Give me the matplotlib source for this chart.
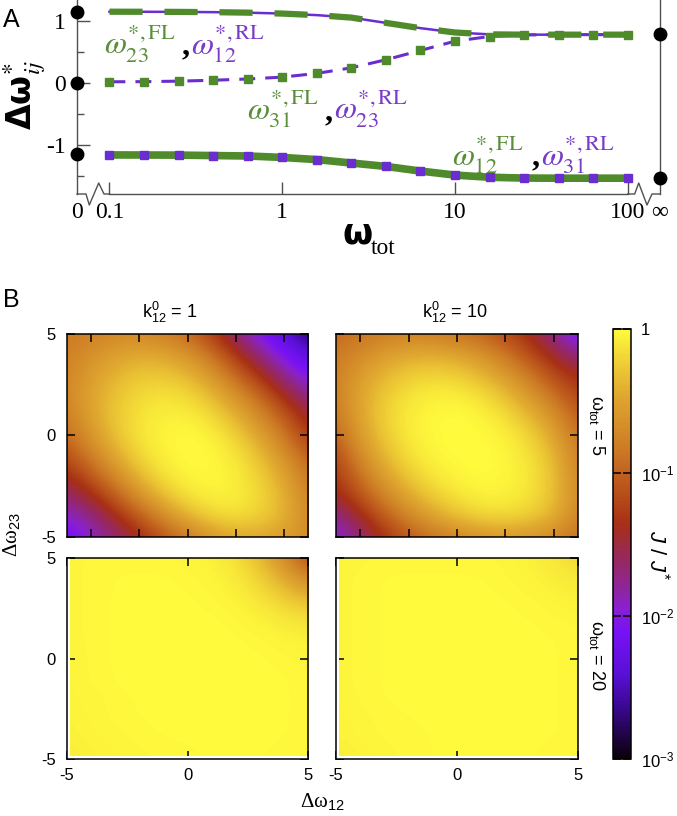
import numpy as np
import matplotlib
matplotlib.use('Agg')
import matplotlib.pyplot as plt
from matplotlib.colors import LinearSegmentedColormap, Normalize, LogNorm
from matplotlib.cm import ScalarMappable
from matplotlib.ticker import MultipleLocator, NullLocator, FixedLocator
import matplotlib.transforms as mtransforms

plt.rcParams['mathtext.fontset'] = 'custom'
plt.rcParams['mathtext.rm'] = 'Liberation Sans'
plt.rcParams['mathtext.it'] = 'Liberation Sans:italic'
plt.rcParams['mathtext.bf'] = 'Liberation Sans:bold'
plt.rcParams['font.family'] = ['Liberation Sans', 'DejaVu Sans']

# ---------------- data: panel A ----------------
omega_tot = [0.1, 0.158, 0.251, 0.398, 0.631, 1.0, 1.585, 2.512, 3.981, 6.31,
             10.0, 15.85, 25.12, 39.81, 63.1, 100.0]
top_curve = [1.145, 1.144, 1.142, 1.138, 1.13, 1.115, 1.09, 1.05, 0.965, 0.88,
             0.81, 0.78, 0.775, 0.775, 0.775, 0.775]
mid_curve = [0.015, 0.017, 0.025, 0.04, 0.06, 0.09, 0.15, 0.24, 0.37, 0.52,
             0.67, 0.745, 0.77, 0.775, 0.775, 0.775]
bot_curve = [-1.165, -1.166, -1.168, -1.175, -1.182, -1.205, -1.24, -1.295, -1.35, -1.425,
             -1.49, -1.525, -1.538, -1.54, -1.54, -1.54]
limit_zero = [1.135, 0.0, -1.15]
limit_inf = [0.78, -1.54]
xtick_vals = [0.1, 1, 10, 100]
xtick_labels = ['0.1', '1', '10', '100']
ytick_vals = [-1, 0, 1]

# ---------------- data: panel B (log10 of J/J*) ----------------
dw_axis = [-5, -4, -3, -2, -1, 0, 1, 2, 3, 4, 5]
# rows: dw23 = 5 (top) ... -5 (bottom); columns: dw12 = -5 ... 5
J_k1_w5 = [
    [-0.85, -0.78, -0.72, -0.72, -0.8, -0.95, -1.25, -1.7, -2.1, -2.35, -2.8],
    [-0.78, -0.65, -0.52, -0.45, -0.48, -0.62, -0.9, -1.3, -1.75, -2.1, -2.35],
    [-0.75, -0.55, -0.38, -0.28, -0.27, -0.36, -0.6, -0.98, -1.35, -1.8, -2.1],
    [-0.75, -0.48, -0.3, -0.17, -0.13, -0.18, -0.35, -0.65, -1.0, -1.4, -1.8],
    [-0.8, -0.5, -0.27, -0.12, -0.05, -0.06, -0.17, -0.4, -0.72, -1.08, -1.5],
    [-0.95, -0.6, -0.3, -0.11, -0.03, 0.0, -0.05, -0.22, -0.5, -0.85, -1.3],
    [-1.15, -0.8, -0.45, -0.18, -0.05, 0.0, -0.02, -0.1, -0.32, -0.65, -1.05],
    [-1.4, -1.08, -0.7, -0.35, -0.12, -0.03, -0.01, -0.07, -0.22, -0.48, -0.88],
    [-1.7, -1.4, -1.05, -0.65, -0.32, -0.12, -0.05, -0.06, -0.18, -0.4, -0.78],
    [-1.95, -1.75, -1.4, -1.05, -0.7, -0.4, -0.2, -0.15, -0.22, -0.4, -0.72],
    [-2.2, -1.95, -1.7, -1.4, -1.1, -0.85, -0.6, -0.48, -0.48, -0.55, -0.72],
]
J_k10_w5 = [
    [-0.95, -0.88, -0.8, -0.78, -0.8, -0.88, -1.0, -1.18, -1.4, -1.75, -2.2],
    [-0.85, -0.7, -0.55, -0.45, -0.43, -0.48, -0.62, -0.85, -1.15, -1.45, -1.75],
    [-0.8, -0.55, -0.37, -0.25, -0.2, -0.24, -0.36, -0.57, -0.85, -1.18, -1.4],
    [-0.8, -0.48, -0.26, -0.12, -0.06, -0.06, -0.14, -0.32, -0.58, -0.9, -1.22],
    [-0.86, -0.48, -0.22, -0.07, -0.01, 0.0, -0.03, -0.15, -0.36, -0.65, -1.05],
    [-1.0, -0.55, -0.26, -0.08, -0.01, 0.0, 0.0, -0.05, -0.2, -0.47, -0.9],
    [-1.2, -0.7, -0.36, -0.14, -0.03, 0.0, 0.0, -0.02, -0.12, -0.35, -0.8],
    [-1.3, -0.9, -0.52, -0.26, -0.1, -0.03, 0.0, -0.02, -0.1, -0.3, -0.75],
    [-1.45, -1.12, -0.76, -0.46, -0.25, -0.12, -0.05, -0.05, -0.12, -0.3, -0.72],
    [-1.8, -1.42, -1.05, -0.75, -0.5, -0.32, -0.2, -0.18, -0.24, -0.4, -0.75],
    [-2.0, -1.7, -1.35, -1.08, -0.9, -0.76, -0.65, -0.6, -0.62, -0.72, -0.92],
]
J_k1_w20 = [
    [-0.03, -0.02, -0.02, -0.02, -0.02, -0.03, -0.05, -0.14, -0.35, -0.7, -1.2],
    [-0.03, -0.02, -0.01, -0.01, -0.01, -0.02, -0.03, -0.08, -0.22, -0.45, -0.75],
    [-0.03, -0.02, -0.01, 0.0, 0.0, -0.01, -0.02, -0.05, -0.12, -0.25, -0.38],
    [-0.03, -0.02, -0.01, 0.0, 0.0, 0.0, -0.01, -0.02, -0.05, -0.1, -0.15],
    [-0.03, -0.02, -0.01, 0.0, 0.0, 0.0, 0.0, -0.01, -0.02, -0.04, -0.06],
    [-0.04, -0.02, -0.01, 0.0, 0.0, 0.0, 0.0, 0.0, -0.01, -0.02, -0.03],
    [-0.04, -0.02, -0.01, 0.0, 0.0, 0.0, 0.0, 0.0, 0.0, -0.01, -0.02],
    [-0.04, -0.03, -0.02, -0.01, 0.0, 0.0, 0.0, 0.0, 0.0, -0.01, -0.02],
    [-0.05, -0.03, -0.02, -0.01, -0.01, 0.0, 0.0, 0.0, 0.0, -0.01, -0.02],
    [-0.06, -0.04, -0.03, -0.02, -0.01, -0.01, 0.0, 0.0, -0.01, -0.01, -0.02],
    [-0.08, -0.05, -0.04, -0.03, -0.02, -0.02, -0.01, -0.01, -0.01, -0.02, -0.03],
]
J_k10_w20 = [
    [-0.04, -0.03, -0.02, -0.02, -0.02, -0.02, -0.02, -0.03, -0.05, -0.1, -0.2],
    [-0.03, -0.02, -0.01, -0.01, -0.01, -0.01, -0.01, -0.02, -0.04, -0.07, -0.1],
    [-0.03, -0.02, -0.01, 0.0, 0.0, 0.0, -0.01, -0.01, -0.02, -0.04, -0.06],
    [-0.03, -0.02, -0.01, 0.0, 0.0, 0.0, 0.0, -0.01, -0.01, -0.02, -0.03],
    [-0.03, -0.02, -0.01, 0.0, 0.0, 0.0, 0.0, 0.0, -0.01, -0.01, -0.02],
    [-0.03, -0.02, -0.01, 0.0, 0.0, 0.0, 0.0, 0.0, 0.0, -0.01, -0.02],
    [-0.03, -0.02, -0.01, 0.0, 0.0, 0.0, 0.0, 0.0, 0.0, -0.01, -0.02],
    [-0.04, -0.02, -0.01, -0.01, 0.0, 0.0, 0.0, 0.0, 0.0, -0.01, -0.02],
    [-0.04, -0.03, -0.02, -0.01, -0.01, 0.0, 0.0, 0.0, 0.0, -0.01, -0.02],
    [-0.05, -0.03, -0.02, -0.02, -0.01, -0.01, -0.01, 0.0, -0.01, -0.01, -0.02],
    [-0.08, -0.05, -0.03, -0.02, -0.01, -0.01, -0.01, -0.01, -0.01, -0.02, -0.03],
]
col_titles = ['k$^{0}_{12}$ = 1', 'k$^{0}_{12}$ = 10']
row_titles = [r'ω$_{\mathrm{tot}}$ = 5', r'ω$_{\mathrm{tot}}$ = 20']
cb_ticks = [1e-3, 1e-2, 1e-1, 1]
cb_ticklabels = ['10$^{-3}$', '10$^{-2}$', '10$^{-1}$', '1']

# ---------------- figure ----------------
W, H = 677, 816
fig = plt.figure(figsize=(W / 100, H / 100), dpi=100)


def box(l, t, r, b):
    return [l / W, 1 - b / H, (r - l) / W, (b - t) / H]


def fx(px):
    return px / W


def fy(py):
    return 1 - py / H


GREEN = '#4f8a2b'
PURPLE = '#6a2ed0'
GREEN_T = '#5a8f3a'
PURPLE_T = '#7a3cc8'
AXC = '#505050'
SERIF = ['Liberation Serif', 'DejaVu Serif']

# ---------------- panel A ----------------
axA = fig.add_axes(box(77, 0, 659.7, 194))
axA.set_xscale('log')
axA.set_xlim(10 ** -1.188, 10 ** 2.185)
axA.set_ylim(-1.795, 1.334)

axA.plot(omega_tot, top_curve, color=PURPLE, lw=1.8, zorder=3)
axA.plot(omega_tot, top_curve, color=GREEN, lw=4.5, dashes=(5.3, 3.5), zorder=4)
axA.plot(omega_tot, mid_curve, color=PURPLE, lw=2.2, dashes=(5.2, 3.3), zorder=3)
axA.plot(omega_tot, mid_curve, ls='none', marker='s', ms=5.5, color=GREEN, mec=GREEN, zorder=4)
axA.plot(omega_tot, bot_curve, color=GREEN, lw=5.5, zorder=3, solid_capstyle='butt')
axA.plot(omega_tot, bot_curve, ls='none', marker='s', ms=6, color=PURPLE, mec=PURPLE, zorder=4)

tl = mtransforms.blended_transform_factory(axA.transAxes, axA.transData)
axA.plot([0] * len(limit_zero), limit_zero, 'o', color='black', ms=9, transform=tl,
         clip_on=False, zorder=6)
axA.plot([1] * len(limit_inf), limit_inf, 'o', color='black', ms=9, transform=tl,
         clip_on=False, zorder=6)

axA.spines['top'].set_visible(False)
axA.spines['bottom'].set_bounds(0.1, 100)
for s in ['left', 'right', 'bottom']:
    axA.spines[s].set_color(AXC)
    axA.spines[s].set_linewidth(1.0)


def afx(px):
    return (px - 77) / (659.7 - 77)


def afy(py):
    return (194 - py) / 194


zx_l = [77, 86, 89.3, 98.7, 104, 109.5]
zy_l = [194, 194, 205, 183, 194, 194]
zx_r = [627.7, 634.7, 638.7, 647, 652, 659.7]
zy_r = [194, 194, 183, 205, 194, 194]
axA.plot([afx(v) for v in zx_l], [afy(v) for v in zy_l], color=AXC, lw=1.0,
         transform=axA.transAxes, clip_on=False)
axA.plot([afx(v) for v in zx_r], [afy(v) for v in zy_r], color=AXC, lw=1.0,
         transform=axA.transAxes, clip_on=False)

xl0, xl1 = axA.get_xlim()
axA.xaxis.set_major_locator(FixedLocator([xl0] + xtick_vals + [xl1]))
axA.xaxis.set_minor_locator(NullLocator())
axA.set_xticklabels(['0'] + xtick_labels + ['∞'])
axA.tick_params(axis='x', direction='in', length=9, width=1, color=AXC, pad=6,
                labelsize=17)
ticks = axA.xaxis.get_major_ticks()
ticks[0].tick1line.set_visible(False)
ticks[-1].tick1line.set_visible(False)
axA.set_yticks(ytick_vals)
axA.set_yticklabels([str(v) for v in ytick_vals])
axA.yaxis.set_minor_locator(MultipleLocator(0.5))
axA.yaxis.set_ticks_position('left')
axA.tick_params(axis='y', which='major', direction='in', length=9, width=1, color=AXC,
                pad=8, labelsize=17)
axA.tick_params(axis='y', which='minor', direction='in', length=5, width=1, color=AXC)
for lab in axA.get_xticklabels() + axA.get_yticklabels():
    lab.set_family(SERIF)

lab_specs = [
    (0.093, 0.262, 0.296, 0.46, r'$\omega_{23}^{*,\mathrm{FL}}$', r'$\omega_{12}^{*,\mathrm{RL}}$'),
    (0.625, 1.76, 2.0, -0.60, r'$\omega_{31}^{*,\mathrm{FL}}$', r'$\omega_{23}^{*,\mathrm{RL}}$'),
    (9.6, 27.8, 31.5, -1.33, r'$\omega_{12}^{*,\mathrm{FL}}$', r'$\omega_{31}^{*,\mathrm{RL}}$'),
]
for xg, xc, xp, yb, tg, tp in lab_specs:
    axA.text(xg, yb, tg, color=GREEN_T, fontsize=23, math_fontfamily='stix',
             ha='left', va='baseline', zorder=7)
    axA.text(xc, yb, ',', color='black', fontsize=23, family=SERIF, fontweight='bold',
             ha='left', va='baseline', zorder=7)
    axA.text(xp, yb, tp, color=PURPLE_T, fontsize=23, math_fontfamily='stix',
             ha='left', va='baseline', zorder=7)

fig.text(fx(25), fy(95), 'Δω$^{*}_{ij}$', rotation=90, fontsize=24, fontweight='bold',
         family='DejaVu Sans', math_fontfamily='stix', ha='center', va='center')
fig.text(fx(343), fy(243), 'ω', fontsize=25, fontweight='bold', family='DejaVu Sans',
         ha='left', va='baseline')
fig.text(fx(371), fy(254), 'tot', fontsize=17, family=SERIF, ha='left', va='baseline')
fig.text(fx(3), fy(27), 'A', fontsize=18, ha='left', va='baseline')
fig.text(fx(3), fy(307), 'B', fontsize=18, ha='left', va='baseline')

# ---------------- panel B ----------------
cmap = LinearSegmentedColormap.from_list('jpal', [
    (0.0, '#0a0008'), (0.05, '#1e0440'), (0.12, '#3a0890'), (0.2, '#5a10d8'),
    (0.3, '#7812f5'), (0.35, '#8a20d0'), (0.40, '#8e2598'), (0.47, '#98285a'),
    (0.55, '#a83015'), (0.62, '#b8501a'), (0.667, '#c2621e'), (0.72, '#cc7a25'),
    (0.85, '#e0a830'), (0.93, '#f0d236'), (1.0, '#fffa3c')])
norm = Normalize(-3, 0)

grids = [[J_k1_w5, J_k10_w5], [J_k1_w20, J_k10_w20]]
lefts = [66.7, 336]
rights = [308.3, 577.7]
tops = [334, 558.3]
bottoms = [536.7, 759.3]
half = 0.5 * (dw_axis[1] - dw_axis[0])
ext = (dw_axis[0] - half, dw_axis[-1] + half, dw_axis[0] - half, dw_axis[-1] + half)

for r in range(2):
    for c in range(2):
        ax = fig.add_axes(box(lefts[c], tops[r], rights[c], bottoms[r]))
        ax.imshow(np.array(grids[r][c]), extent=ext, origin='upper', cmap=cmap, norm=norm,
                  interpolation='bicubic', aspect='auto')
        ax.set_xlim(dw_axis[0], dw_axis[-1])
        ax.set_ylim(dw_axis[0], dw_axis[-1])
        if r == 1:
            ax.axvspan(-5, -4.88, color='white', zorder=2, lw=0)
            ax.axhspan(-5, -4.86, color='white', zorder=2, lw=0)
        for s in ax.spines.values():
            s.set_linewidth(1.1)
            s.set_zorder(5)
        if r == 0:
            ax.set_xticks([-4, -2, 0, 2, 4])
            ax.set_xticklabels([])
        else:
            ax.set_xticks([-5, 0, 5])
            ax.set_xticklabels(['-5', '0', '5'])
        ax.set_yticks([-5, 0, 5])
        if c == 0:
            ax.set_yticklabels(['-5', '0', '5'])
        else:
            ax.set_yticklabels([])
        ax.tick_params(direction='in', top=True, right=True, length=6, width=1.1,
                       labelsize=12)
        ax.tick_params(axis='y', pad=8)
        ax.tick_params(axis='x', pad=6)

fig.text(fx(170), fy(318), col_titles[0], ha='center', va='baseline', fontsize=13)
fig.text(fx(455), fy(318), col_titles[1], ha='center', va='baseline', fontsize=13)
fig.text(fx(597), fy(425), row_titles[0], rotation=-90, ha='center', va='center', fontsize=13)
fig.text(fx(597), fy(655), row_titles[1], rotation=-90, ha='center', va='center', fontsize=13)
fig.text(fx(322), fy(808), 'Δω$_{12}$', ha='center', va='baseline', fontsize=15, family=SERIF)
fig.text(fx(12), fy(535), 'Δω$_{23}$', rotation=90, ha='center', va='center', fontsize=15,
         family=SERIF)

cax = fig.add_axes(box(613, 329.3, 631, 759.3))
sm = ScalarMappable(norm=LogNorm(1e-3, 1), cmap=cmap)
cb = fig.colorbar(sm, cax=cax)
cb.set_ticks(cb_ticks)
cb.set_ticklabels(cb_ticklabels)
cax.yaxis.set_minor_locator(NullLocator())
cax.tick_params(which='both', direction='in', left=True, right=True, length=6, width=1.1,
                labelsize=12, pad=7)
cb.outline.set_linewidth(1.1)
fig.text(fx(657), fy(555), '$J$ / $J^{*}$', rotation=-90, ha='center', va='center',
         fontsize=16)

fig.savefig('out.png', dpi=100)
